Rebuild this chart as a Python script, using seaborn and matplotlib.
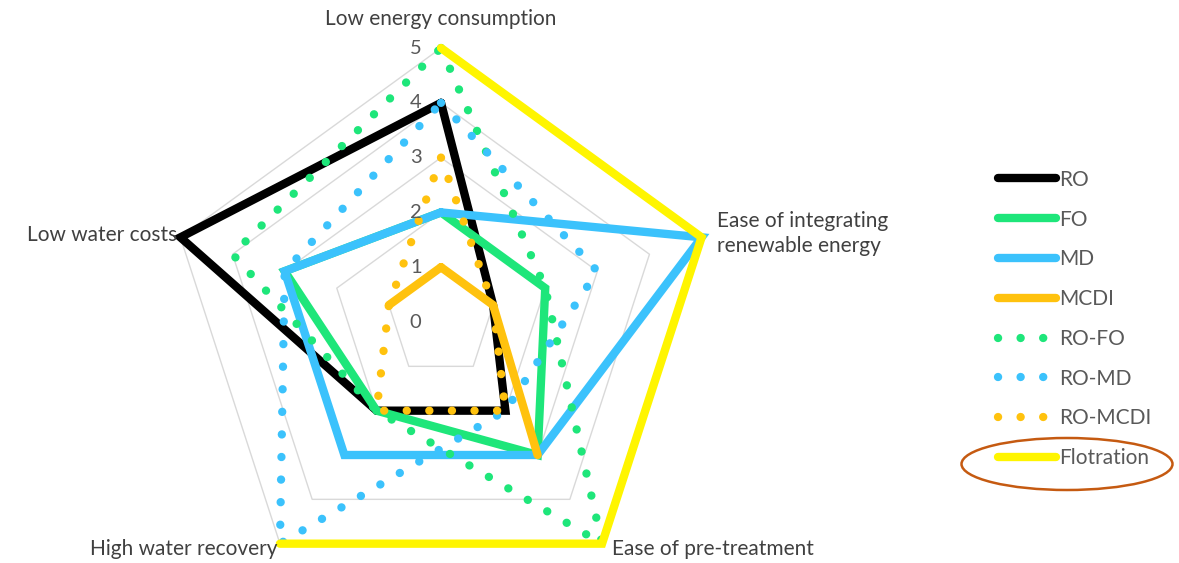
import numpy as np
import seaborn as sns
from matplotlib import pyplot as plt
from matplotlib.patches import Ellipse

# radar axes, clockwise from the top
categories = ['Low energy consumption', 'Ease of integrating\nrenewable energy',
              'Ease of pre-treatment', 'High water recovery', 'Low water costs']
ring_values = [0, 1, 2, 3, 4, 5]

ro = [4, 1, 2, 2, 5]
fo = [2, 2, 3, 2, 3]
md = [2, 5, 3, 3, 3]
mcdi = [1, 1, 3, np.nan, 1]
ro_fo = [5, 2, 5, 2, 4]
ro_md = [4, 3, 2, 5, 3]
ro_mcdi = [3, 1, 2, 2, 1]
flotration = [5, 5, 5, 5, np.nan]

series = [
    ('RO', ro, '#000000', 'solid'),
    ('FO', fo, '#1EE67A', 'solid'),
    ('MD', md, '#3BC2FC', 'solid'),
    ('MCDI', mcdi, '#FFC20E', 'solid'),
    ('RO-FO', ro_fo, '#1EE67A', 'dotted'),
    ('RO-MD', ro_md, '#3BC2FC', 'dotted'),
    ('RO-MCDI', ro_mcdi, '#FFC20E', 'dotted'),
    ('Flotration', flotration, '#FFF500', 'solid'),
]

sns.set_theme(style='white')
plt.rcParams['font.family'] = ['Lato', 'DejaVu Sans']

fig = plt.figure(figsize=(11.79, 5.63), dpi=100)
W, H = 1179, 563
cx, cy, rad = 441, 322, 274
ax = fig.add_axes([(cx - rad) / W, (H - cy - rad) / H, 2 * rad / W, 2 * rad / H],
                  projection='polar')
ax.set_theta_zero_location('N')
ax.set_theta_direction(-1)
ax.set_ylim(0, 5)
ax.grid(False)
ax.set_xticks([])
ax.set_yticks([])
ax.spines['polar'].set_visible(False)
ax.patch.set_alpha(0)

angles = np.linspace(0, 2 * np.pi, len(categories), endpoint=False)
closed = np.append(angles, angles[0])

# pentagon grid rings
for v in ring_values[1:]:
    ax.plot(closed, [v] * len(closed), color='#d9d9d9', lw=1, zorder=1)

handles = []
for name, values, color, style in series:
    vals = np.append(values, values[0])
    if style == 'dotted':
        line, = ax.plot(closed, vals, color=color, lw=6, linestyle=(0, (0.01, 2.7)),
                        dash_capstyle='round', label=name, clip_on=False, zorder=3)
    else:
        line, = ax.plot(closed, vals, color=color, lw=6, solid_joinstyle='miter',
                        solid_capstyle='round', label=name, clip_on=False, zorder=3)
    handles.append(line)

# ring value labels along the top spoke
for v in ring_values:
    ax.annotate(str(v), xy=(0, v), xytext=(-14, 0), textcoords='offset points',
                ha='right', va='center', color='#595959', fontsize=14.5)

# category labels
label_offsets = [(0, 21, 'center'), (11, 3, 'left'), (7, -3.5, 'left'),
                 (-2, -3.5, 'right'), (-2, 1.5, 'right')]
for ang, text, (dx, dy, ha) in zip(angles, categories, label_offsets):
    ax.annotate(text, xy=(ang, 5), xytext=(dx, dy), textcoords='offset points',
                ha=ha, va='center', color='#404040', fontsize=15, linespacing=1.3,
                annotation_clip=False)

fig.legend(handles=handles, labels=[s[0] for s in series], loc='center left',
           bbox_to_anchor=(988 / W, 1 - 319 / H), frameon=False, fontsize=15,
           handlelength=2.75, handletextpad=0.15, labelspacing=0.95, borderpad=0,
           labelcolor='#595959')

fig.add_artist(Ellipse((1067 / W, 1 - 464 / H), 211 / W, 52 / H, transform=fig.transFigure,
                       fill=False, edgecolor='#C55A11', lw=1.8))

plt.savefig('out.png', dpi=100)
